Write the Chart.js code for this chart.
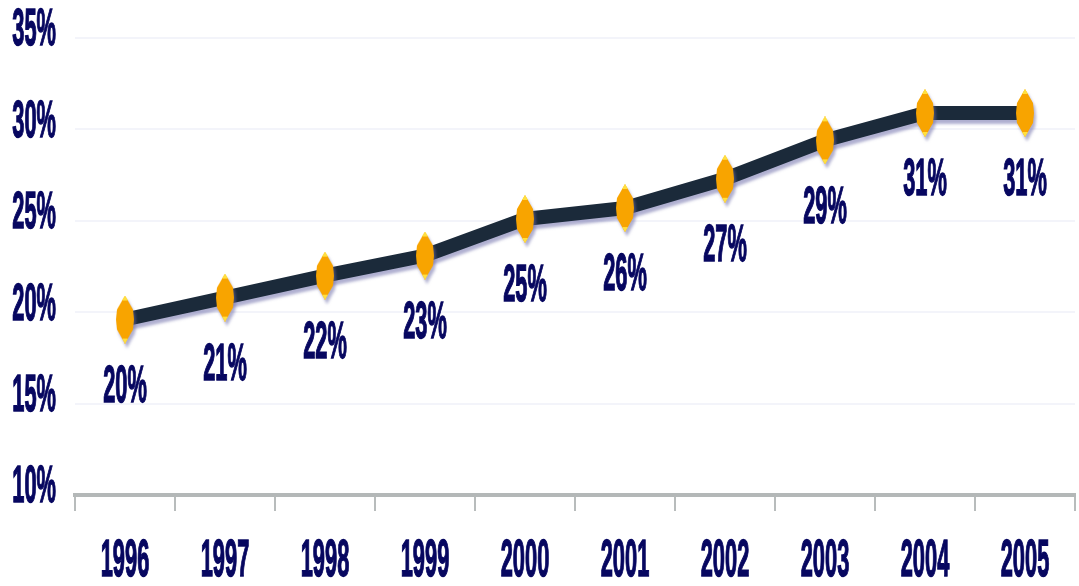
<!DOCTYPE html>
<html><head><meta charset="utf-8">
<script src="https://cdn.jsdelivr.net/npm/chart.js@4"></script>
<style>html,body{margin:0;padding:0;background:#fff;overflow:hidden}canvas{display:block}</style>
</head><body><canvas id="c" width="1079" height="586"></canvas>
<script>
const years = ['1996','1997','1998','1999','2000','2001','2002','2003','2004','2005'];
const shares = [19.6, 20.8, 22.0, 23.1, 25.1, 25.7, 27.3, 29.4, 30.9, 30.9];
const pointLabels = ['20%','21%','22%','23%','25%','26%','27%','29%','31%','31%'];
const yTicks = [10, 15, 20, 25, 30, 35];

const TEXT = '#070760';
const FONT = 'bold 52px "Liberation Sans", Arial, sans-serif';
const SX = 0.42;

function diamond(){
  const c = document.createElement('canvas');
  c.width = 22; c.height = 48;
  const g = c.getContext('2d');
  g.beginPath();
  g.moveTo(11,0); g.lineTo(19,14); g.lineTo(20,24); g.lineTo(19,34);
  g.lineTo(11,48); g.lineTo(3,34); g.lineTo(2,24); g.lineTo(3,14); g.closePath();
  g.fillStyle = '#f8a400'; g.fill();
  g.fillStyle = '#ffe040';
  g.beginPath(); g.moveTo(11,0); g.lineTo(14,5); g.lineTo(8,5); g.closePath(); g.fill();
  g.beginPath(); g.moveTo(11,48); g.lineTo(14,43); g.lineTo(8,43); g.closePath(); g.fill();
  return c;
}

function sqText(ctx, txt, x, y, align){
  ctx.save();
  ctx.font = FONT;
  ctx.fillStyle = TEXT;
  ctx.strokeStyle = TEXT;
  ctx.lineWidth = 1.5;
  ctx.textBaseline = 'middle';
  ctx.textAlign = align;
  ctx.translate(x, y);
  ctx.scale(SX, 1);
  ctx.fillText(txt, 0, 0);
  ctx.strokeText(txt, 0, 0);
  ctx.restore();
}

const labelsPlugin = {
  id: 'labelsPlugin',
  afterDraw(chart){
    const ctx = chart.ctx;
    const xs = chart.scales.x, ys = chart.scales.y;
    yTicks.forEach(v => sqText(ctx, v + '%', 56, ys.getPixelForValue(v) - 7, 'right'));
    years.forEach((y, i) => sqText(ctx, y, xs.getPixelForValue(i), 562, 'center'));
    const meta = chart.getDatasetMeta(0);
    meta.data.forEach((p, i) => sqText(ctx, pointLabels[i], p.x, p.y + 68, 'center'));
  }
};

const shadowPlugin = {
  id: 'shadowPlugin',
  beforeDatasetDraw(chart){
    const ctx = chart.ctx; ctx.save();
    ctx.shadowColor = 'rgba(110,110,170,0.55)';
    ctx.shadowOffsetY = 4; ctx.shadowOffsetX = 2; ctx.shadowBlur = 3;
  },
  afterDatasetDraw(chart){ chart.ctx.restore(); }
};

new Chart(document.getElementById('c'), {
  type: 'line',
  data: {
    labels: years,
    datasets: [{
      data: shares,
      borderColor: '#1b2a3a',
      borderWidth: 14,
      tension: 0,
      pointStyle: diamond(),
      pointRadius: 12,
      pointHoverRadius: 12,
      fill: false
    }]
  },
  options: {
    responsive: false,
    animation: false,
    devicePixelRatio: 1,
    layout: { autoPadding: false, padding: { top: 38, right: 4, left: 0, bottom: 0 } },
    plugins: { legend: { display: false }, tooltip: { enabled: false } },
    scales: {
      x: {
        type: 'category',
        offset: true,
        grid: { display: true, offset: true, drawOnChartArea: false, drawTicks: true, tickLength: 16, color: '#b8bcbc', lineWidth: 2 },
        border: { display: true, color: '#b4b8b8', width: 4 },
        ticks: { display: false },
        afterFit(s){ s.height = 91; }
      },
      y: {
        min: 10, max: 35,
        ticks: { display: false, stepSize: 5 },
        grid: { color: (c) => (c.tick && c.tick.value === 10) ? 'rgba(0,0,0,0)' : '#f3f4fa', lineWidth: 2, drawTicks: false },
        border: { display: false },
        afterFit(s){ s.width = 75; }
      }
    }
  },
  plugins: [shadowPlugin, labelsPlugin]
});
</script></body></html>
